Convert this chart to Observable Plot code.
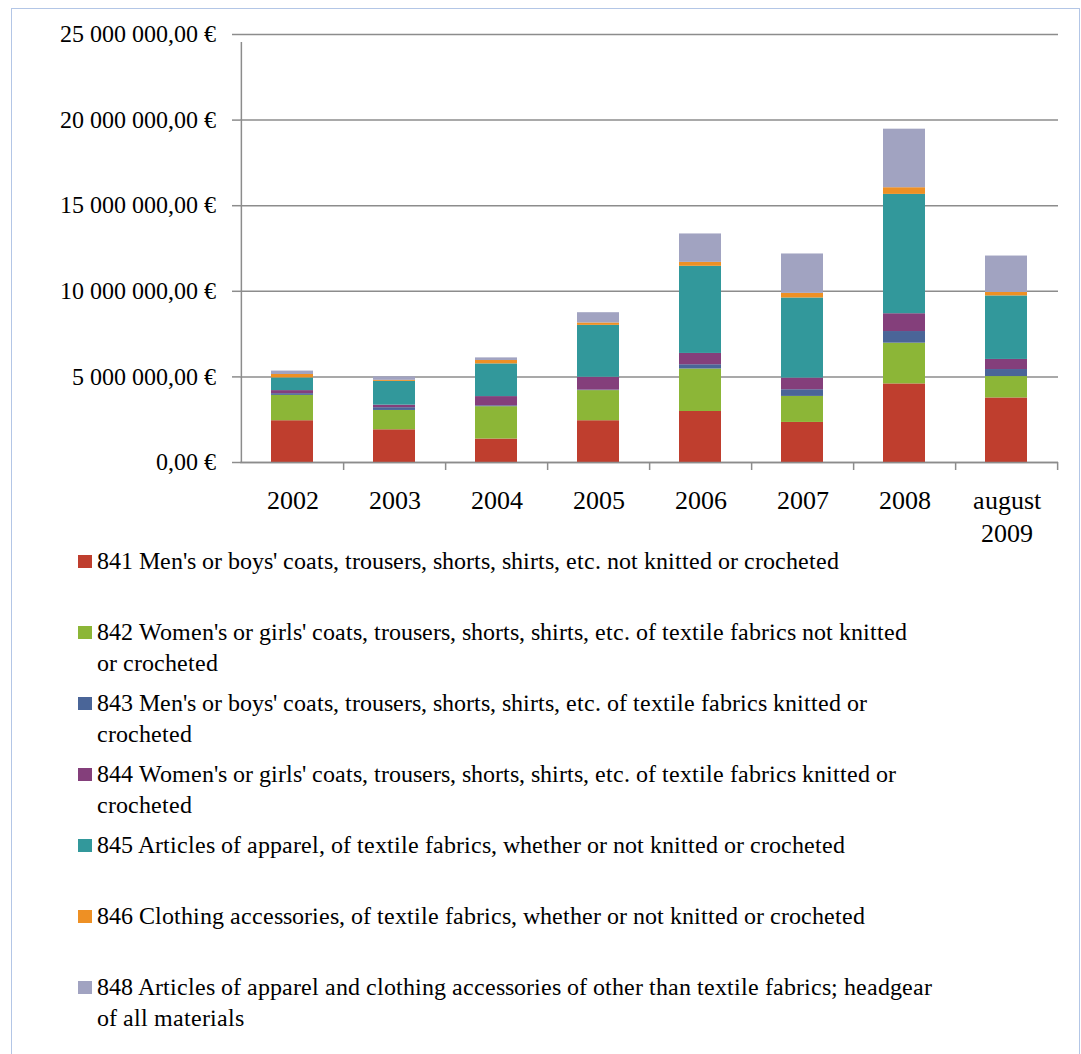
<!DOCTYPE html>
<html><head><meta charset="utf-8">
<script src="https://cdn.jsdelivr.net/npm/d3@7"></script>
<script src="https://cdn.jsdelivr.net/npm/@observablehq/plot@0.6"></script>
<style>
@font-face{font-family:"SerifAlias";src:local("Liberation Serif"),local("LiberationSerif"),local("LiberationSerif-Regular");}
</style>
</head><body style="margin:0;background:#fff">
<div id="wrap" style="position:relative;width:1081px;height:1054px;overflow:hidden;font-family:SerifAlias,'Liberation Serif'">
<div id="border" style="position:absolute;left:11px;top:8px;width:1067px;height:1100px;border:1.5px solid #b3c6e6"></div>
<div id="chart" style="position:absolute;left:0;top:0"></div>
<div id="legend" style="position:absolute;left:0;top:546px"></div>
</div>
<script>
const years = ["2002","2003","2004","2005","2006","2007","2008","august\n2009"];
const codes = ["841","842","843","844","845","846","848"];
const labels = [
 "841 Men's or boys' coats, trousers, shorts, shirts, etc. not knitted or crocheted",
 "842 Women's or girls' coats, trousers, shorts, shirts, etc. of textile fabrics not knitted\nor crocheted",
 "843 Men's or boys' coats, trousers, shorts, shirts, etc. of textile fabrics knitted or\ncrocheted",
 "844 Women's or girls' coats, trousers, shorts, shirts, etc. of textile fabrics knitted or\ncrocheted",
 "845 Articles of apparel, of textile fabrics, whether or not knitted or crocheted",
 "846 Clothing accessories, of textile fabrics, whether or not knitted or crocheted",
 "848 Articles of apparel and clothing accessories of other than textile fabrics; headgear\nof all materials"
];
const colors = ["#bf3e2e","#8cb637","#4a6598","#843f7b","#32989b","#ee9024","#a1a3c1"];
// values in millions of euro
const s841 = [2.44,1.91,1.37,2.44,2.98,2.34,4.59,3.77];
const s842 = [1.48,1.13,1.89,1.76,2.48,1.52,2.38,1.25];
const s843 = [0.10,0.16,0.05,0.03,0.25,0.39,0.68,0.41];
const s844 = [0.18,0.15,0.54,0.75,0.66,0.68,1.04,0.59];
const s845 = [0.74,1.39,1.91,3.03,5.09,4.68,6.97,3.71];
const s846 = [0.20,0.06,0.20,0.14,0.23,0.27,0.39,0.20];
const s848 = [0.20,0.20,0.15,0.60,1.66,2.30,3.42,2.13];
const yTicks = [0,5e6,10e6,15e6,20e6,25e6];

const series = [s841,s842,s843,s844,s845,s846,s848];
const table = [];
series.forEach((s,i)=>s.forEach((v,j)=>table.push({code:codes[i], year:years[j], value:v*1e6})));

const loc = d3.formatLocale({decimal:",", thousands:"\u00a0", grouping:[3], currency:["","\u00a0€"]});
const fmt = loc.format("$,.2f");

const W=1081, H=560, ML=240, MR=23, MT=34, MB=98;
const step=(W-ML-MR)/years.length;
const grey="#8c8c8c";
const ff = "SerifAlias, 'Liberation Serif'";
const chart = Plot.plot({
  width:W, height:H, marginLeft:ML, marginRight:MR, marginTop:MT, marginBottom:MB,
  style:{fontFamily:ff, fontSize:"24px", background:"transparent", color:"#000"},
  x:{domain:years, paddingInner:0.59, paddingOuter:0.295, label:null},
  y:{domain:[0,25e6], label:null},
  color:{domain:codes, range:colors},
  marks:[
    Plot.gridY(yTicks,{stroke:grey, strokeOpacity:1, strokeWidth:1.5}),
    Plot.barY(table, Plot.stackY({x:"year", y:"value", fill:"code"})),
    Plot.ruleY([0],{stroke:grey, strokeWidth:1.5}),
    Plot.ruleX([years[0]],{dx:-step/2, y1:0, y2:25e6, insetBottom:-8, stroke:grey, strokeWidth:1.5}),
    Plot.ruleX(years,{dx:step/2, y1:0, y2:0, insetBottom:-8, stroke:grey, strokeWidth:1.5}),
    Plot.axisY(yTicks,{tickSize:8, tickPadding:17, tickFormat:fmt, stroke:grey, strokeWidth:1.5, color:"#000", label:null, fontSize:24}),
    Plot.axisX({tickSize:0, tickPadding:23, label:null, lineHeight:1.27, fontSize:26, color:"#000"})
  ]
});
document.getElementById("chart").appendChild(chart);

const lg = document.getElementById("legend");
codes.forEach((c,i)=>{
  const it=document.createElement("div");
  it.style.cssText="position:relative;height:71px";
  const sw=document.createElement("div");
  sw.style.cssText="position:absolute;left:78px;top:9px;width:14px;height:13px";
  sw.style.background=colors[i];
  const lb=document.createElement("div");
  lb.style.cssText="position:absolute;left:97px;top:0;font-size:24px;line-height:31px;white-space:pre;color:#000";
  lb.style.fontFamily = ff;
  lb.textContent=labels[i];
  it.appendChild(sw); it.appendChild(lb); lg.appendChild(it);
});
</script>
</body></html>
